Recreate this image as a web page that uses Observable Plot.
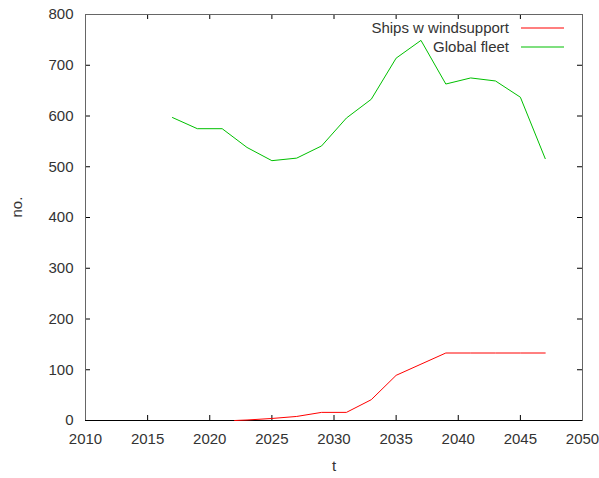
<!DOCTYPE html>
<html>
<head>
<meta charset="utf-8">
<script src="https://cdn.jsdelivr.net/npm/d3@7"></script>
<script src="https://cdn.jsdelivr.net/npm/@observablehq/plot@0.6"></script>
<style>
  body { margin: 0; background: #fff; }
  #chart { position: relative; width: 599px; height: 478px; }
</style>
</head>
<body>
<div id="chart"></div>
<script>
// Global fleet size (number of ships) per year
const fleetYears = [2017, 2019, 2021, 2023, 2025, 2027, 2029, 2031, 2033, 2035, 2037, 2039, 2041, 2043, 2045, 2047];
const globalFleet = [597, 575, 575, 538, 512, 517, 541, 596, 633, 714, 749, 663, 675, 669, 637, 516];

// Ships fitted with wind-assisted propulsion per year
const windYears = [2022, 2023, 2025, 2027, 2029, 2031, 2033, 2035, 2037, 2039, 2041, 2043, 2045, 2047];
const windSupport = [0, 1, 4, 8, 16, 16, 41, 89, 111, 133, 133, 133, 133, 133];

const seriesNames = ["Ships w windsupport", "Global fleet"];
const seriesColors = ["#ff0000", "#00c000"];

const xTicks = [2010, 2015, 2020, 2025, 2030, 2035, 2040, 2045, 2050];
const yTicks = [0, 100, 200, 300, 400, 500, 600, 700, 800];
const xLabel = "t";
const yLabel = "no.";

const fleetRows = fleetYears.map((t, i) => ({t, v: globalFleet[i]}));
const windRows = windYears.map((t, i) => ({t, v: windSupport[i]}));

const W = 599, H = 478;
const margin = {top: 14, right: 17, bottom: 58, left: 85};
const innerW = W - margin.left - margin.right;
const innerH = H - margin.top - margin.bottom;
const tickLen = 5;
const font = "'Liberation Sans', Arial, sans-serif";

const chart = Plot.plot({
  width: W,
  height: H,
  marginTop: margin.top,
  marginRight: margin.right,
  marginBottom: margin.bottom,
  marginLeft: margin.left,
  style: {fontFamily: font, fontSize: "15px", color: "#333", background: "#fff"},
  x: {domain: [2010, 2050]},
  y: {domain: [0, 800]},
  marks: [
    // tick labels (ticks themselves are drawn inward below)
    Plot.axisX(xTicks, {tickSize: 0, tickPadding: 13, label: null, tickFormat: d => String(d), fill: "#333"}),
    Plot.axisY(yTicks, {tickSize: 0, tickPadding: 12, label: null, fill: "#333"}),
    // inward ticks, mirrored on all four sides
    Plot.tickX(xTicks, {x: d => d, stroke: "#000", insetTop: innerH - tickLen}),
    Plot.tickX(xTicks, {x: d => d, stroke: "#000", insetBottom: innerH - tickLen}),
    Plot.tickY(yTicks, {y: d => d, stroke: "#000", insetRight: innerW - tickLen}),
    Plot.tickY(yTicks, {y: d => d, stroke: "#000", insetLeft: innerW - tickLen}),
    Plot.frame({stroke: "#666"}),
    Plot.ruleY([0], {stroke: "#000"}),
    // data
    Plot.line(windRows, {x: "t", y: "v", stroke: seriesColors[0], strokeWidth: 1}),
    Plot.line(fleetRows, {x: "t", y: "v", stroke: seriesColors[1], strokeWidth: 1}),
    // axis titles
    Plot.text([xLabel], {text: d => d, frameAnchor: "bottom", dy: 46, fill: "#333", lineAnchor: "middle"}),
    Plot.text([yLabel], {text: d => d, frameAnchor: "left", dx: -68, rotate: -90, fill: "#333", lineAnchor: "middle"})
  ]
});

// legend in the upper right corner of the plot area
const svg = d3.select(chart);
const legend = svg.append("g")
  .style("font-family", font)
  .style("font-size", "15px");
const legendRight = margin.left + innerW;
seriesNames.forEach((name, i) => {
  const y = margin.top + 14 + i * 19;
  legend.append("text")
    .attr("x", legendRight - 73)
    .attr("y", y)
    .attr("dy", "0.35em")
    .attr("text-anchor", "end")
    .style("fill", "#333")
    .text(name);
  legend.append("rect")
    .attr("x", legendRight - 61)
    .attr("y", y - 0.5)
    .attr("width", 43)
    .attr("height", 1)
    .style("fill", seriesColors[i])
    .style("stroke", "none");
});

document.getElementById("chart").appendChild(chart);
</script>
</body>
</html>
